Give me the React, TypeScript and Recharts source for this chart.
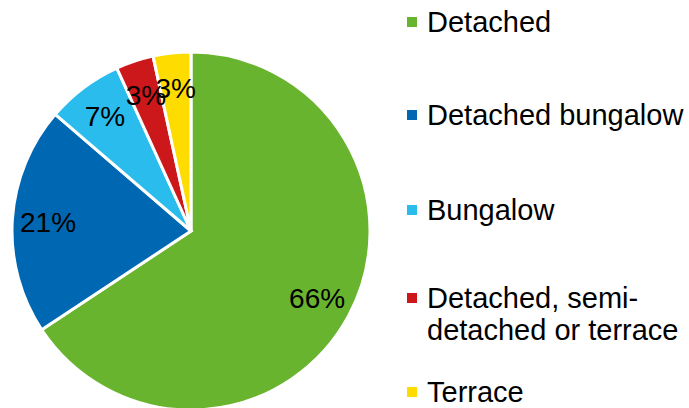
import { Legend, Pie, PieChart, Cell } from "recharts";

const CATEGORIES = [
  "Detached",
  "Detached bungalow",
  "Bungalow",
  "Detached, semi-\ndetached or terrace",
  "Terrace",
];
const SHARES = [65.7, 20.6, 6.9, 3.4, 3.4];
const COLORS = ["#69b42f", "#0068b2", "#2bbcee", "#cd181b", "#ffdc00"];

// legend rows as placed in the original (top of each row, px)
const LEGEND_TOPS = [6, 99, 194, 282, 376];

const data = CATEGORIES.map((name, i) => ({ name, value: SHARES[i] }));

const FONT = "'Liberation Sans', Arial, sans-serif";
const RAD = Math.PI / 180;

function renderLabel(props: any) {
  const { cx, cy, midAngle, outerRadius, value } = props;
  const r = outerRadius * 0.8;
  const x = cx + r * Math.cos(-midAngle * RAD);
  const y = cy + r * Math.sin(-midAngle * RAD);
  return (
    <text
      x={x}
      y={y}
      fill="#000"
      fontSize={28}
      fontFamily={FONT}
      textAnchor="middle"
      dominantBaseline="central"
    >
      {`${Math.round(value)}%`}
    </text>
  );
}

function LegendContent() {
  return (
    <div style={{ position: "relative", width: 270, height: 408 }}>
      {CATEGORIES.map((name, i) => (
        <div
          key={name}
          style={{
            position: "absolute",
            left: 0,
            top: LEGEND_TOPS[i],
            display: "flex",
            alignItems: "flex-start",
            fontFamily: FONT,
            fontSize: 29,
            lineHeight: "32px",
            color: "#000",
            whiteSpace: "pre",
          }}
        >
          <span
            style={{
              width: 10,
              height: 10,
              marginTop: 11,
              marginRight: 10,
              background: COLORS[i],
              flex: "none",
            }}
          />
          <span>{name}</span>
        </div>
      ))}
    </div>
  );
}

export default function App() {
  return (
    <div style={{ position: "fixed", left: 0, top: 0, background: "#fff" }}>
      <PieChart width={689} height={408} margin={{ top: 0, right: 0, bottom: 0, left: 0 }}>
        <Pie
          data={data}
          dataKey="value"
          nameKey="name"
          cx={191}
          cy={231}
          outerRadius={179}
          startAngle={90}
          endAngle={-270}
          stroke="#fff"
          strokeWidth={3}
          label={renderLabel}
          labelLine={false}
          isAnimationActive={false}
        >
          {data.map((d, i) => (
            <Cell key={d.name} fill={COLORS[i]} />
          ))}
        </Pie>
        <Legend
          content={<LegendContent />}
          wrapperStyle={{ position: "absolute", left: 407, top: 0, width: 282, height: 408 }}
        />
      </PieChart>
    </div>
  );
}
